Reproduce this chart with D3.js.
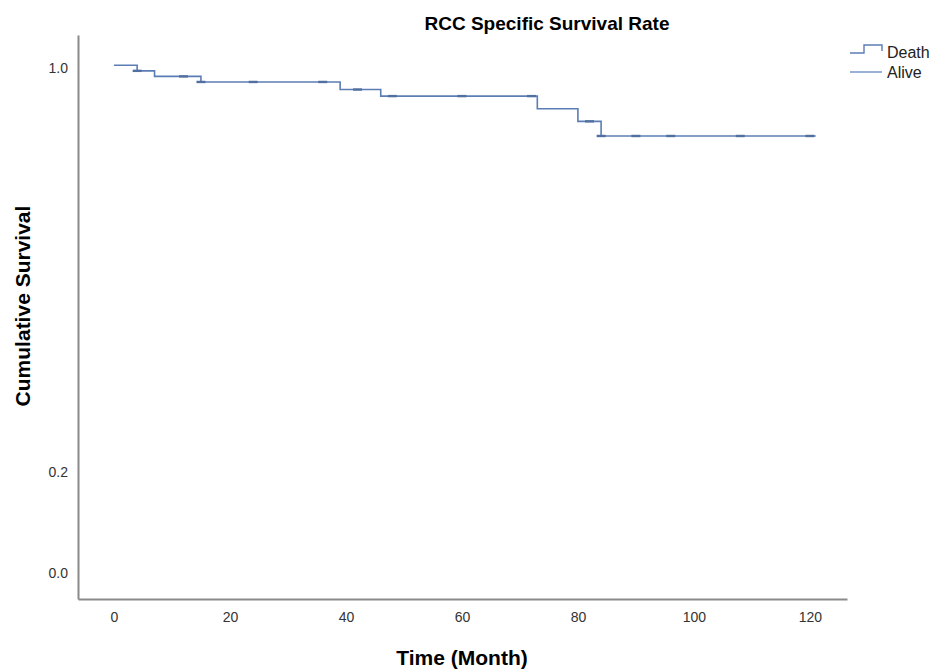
<!DOCTYPE html>
<html>
<head>
<meta charset="utf-8">
<script src="https://cdn.jsdelivr.net/npm/d3@7"></script>
<style>
  body { margin: 0; background: #fff; }
  text { font-family: "Liberation Sans", Arial, sans-serif; }
</style>
</head>
<body>
<div id="chart"></div>
<script>
// Kaplan-Meier steps (month, cumulative survival)
const eventTimes = [0, 4, 7, 15, 39, 46, 73, 80, 84];
const survival = [1.0, 0.989, 0.978, 0.967, 0.952, 0.939, 0.914, 0.889, 0.860];
const lastFollowUp = 121;
// censored cases (month)
const censorTimes = [4, 12, 15, 24, 36, 42, 48, 60, 72, 82, 84, 90, 96, 108, 120];
const xTicks = [0, 20, 40, 60, 80, 100, 120];
const yTicks = [0.0, 0.2, 1.0];
const legendLabels = ['Death', 'Alive'];

const width = 936, height = 669;
const lineColor = '#5b7db5';

const svg = d3.select('#chart').append('svg')
  .attr('width', width).attr('height', height);

const x = d3.scaleLinear().domain([-6.2, 126.4]).range([78, 847]);
const y = d3.scaleLinear().domain([-0.057, 1.06]).range([599, 35]);

// axes
const xAxis = svg.append('g')
  .attr('transform', 'translate(0,' + y.range()[0] + ')')
  .call(d3.axisBottom(x).tickValues(xTicks).tickSize(0).tickPadding(13).tickFormat(d3.format('d')));
const yAxis = svg.append('g')
  .attr('transform', 'translate(' + x.range()[0] + ',0)')
  .call(d3.axisLeft(y).tickValues(yTicks).tickSize(0).tickPadding(10).tickFormat(d3.format('.1f')));

[xAxis, yAxis].forEach(function (g) {
  g.select('.domain').attr('stroke', '#8a8a8a').attr('stroke-width', 2);
  g.selectAll('text').attr('fill', '#333').style('font-size', '14px');
});
yAxis.selectAll('text').attr('dy', '0.55em');

// survival step line
const pts = eventTimes.map(function (t, i) { return [t, survival[i]]; });
pts.push([lastFollowUp, survival[survival.length - 1]]);

const line = d3.line()
  .x(function (d) { return x(d[0]); })
  .y(function (d) { return y(d[1]); })
  .curve(d3.curveStepAfter);

svg.append('path')
  .datum(pts)
  .attr('d', line)
  .attr('fill', 'none')
  .attr('stroke', lineColor)
  .attr('stroke-width', 1.6);

// censor marks
function survAt(t) {
  let s = survival[0];
  for (let i = 0; i < eventTimes.length; i++) {
    if (eventTimes[i] <= t) s = survival[i];
  }
  return s;
}
svg.append('g').selectAll('line')
  .data(censorTimes)
  .enter().append('line')
  .attr('x1', function (d) { return x(d) - 4.5; })
  .attr('x2', function (d) { return x(d) + 4.5; })
  .attr('y1', function (d) { return y(survAt(d)); })
  .attr('y2', function (d) { return y(survAt(d)); })
  .attr('stroke', '#52709f')
  .attr('stroke-width', 2.4);

// title and axis labels
svg.append('text')
  .attr('x', 547).attr('y', 30)
  .attr('text-anchor', 'middle')
  .style('font-size', '19px').style('font-weight', 'bold')
  .text('RCC Specific Survival Rate');

svg.append('text')
  .attr('x', 462).attr('y', 665)
  .attr('text-anchor', 'middle')
  .style('font-size', '21px').style('font-weight', 'bold')
  .text('Time (Month)');

svg.append('text')
  .attr('transform', 'translate(30,306) rotate(-90)')
  .attr('text-anchor', 'middle')
  .style('font-size', '21px').style('font-weight', 'bold')
  .text('Cumulative Survival');

// legend
const legend = svg.append('g').attr('transform', 'translate(850,0)');
legend.append('path')
  .attr('d', 'M0,53 H14 V45 H32 V51')
  .attr('fill', 'none').attr('stroke', lineColor).attr('stroke-width', 1.4);
legend.append('line')
  .attr('x1', 0).attr('x2', 32).attr('y1', 72).attr('y2', 72)
  .attr('stroke', '#7f9bcc').attr('stroke-width', 1.6);
legend.selectAll('text.lg')
  .data(legendLabels)
  .enter().append('text')
  .attr('class', 'lg')
  .attr('x', 37)
  .attr('y', function (d, i) { return 58 + i * 20; })
  .attr('fill', '#222')
  .style('font-size', '16px')
  .text(function (d) { return d; });
</script>
</body>
</html>
